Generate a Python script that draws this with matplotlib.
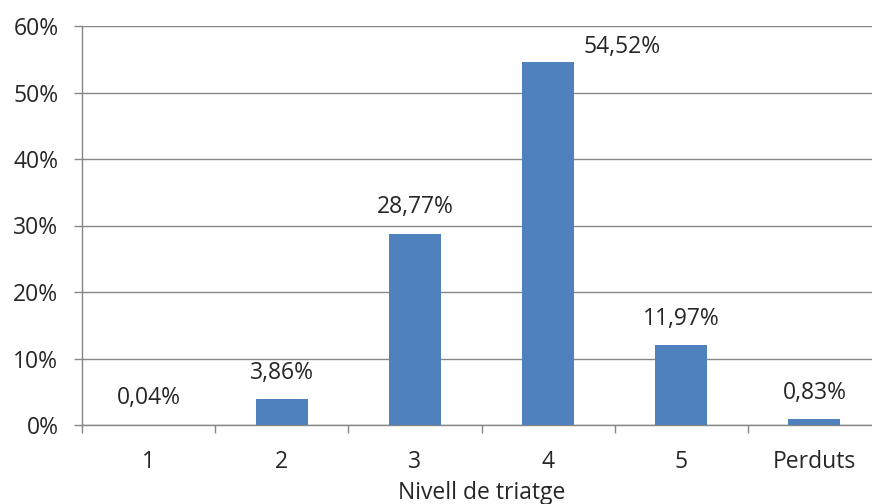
import matplotlib
matplotlib.use("Agg")
import matplotlib.pyplot as plt
from matplotlib.ticker import FuncFormatter, FixedLocator

categories = ["1", "2", "3", "4", "5", "Perduts"]
values = [0.04, 3.86, 28.77, 54.52, 11.97, 0.83]
value_labels = ["0,04%", "3,86%", "28,77%", "54,52%", "11,97%", "0,83%"]
y_ticks = [0, 10, 20, 30, 40, 50, 60]
x_title = "Nivell de triatge"

plt.rcParams["font.family"] = ["Open Sans", "DejaVu Sans"]

fig = plt.figure(figsize=(8.72, 5.04), dpi=100)
ax = fig.add_axes([82 / 872, 1 - 425 / 504, 799 / 872, 399 / 504])

grid_col = "#868686"
bar_col = "#4F81BD"
text_col = "#262626"
fs = 16.5

x = list(range(len(categories)))
ax.bar(x, values, width=0.39, color=bar_col, zorder=3)

ax.set_xlim(-0.5, len(categories) - 0.5)
ax.set_ylim(0, 60)
ax.set_yticks(y_ticks)
ax.yaxis.set_major_formatter(FuncFormatter(lambda v, p: f"{v:.0f}%"))
ax.grid(axis="y", color=grid_col, linewidth=1.0, zorder=0)

ax.set_xticks(x)
ax.set_xticklabels(categories)
ax.xaxis.set_minor_locator(FixedLocator([i - 0.5 for i in range(len(categories) + 1)]))
ax.tick_params(axis="x", which="major", length=0, pad=18, labelsize=fs, labelcolor=text_col)
ax.tick_params(axis="x", which="minor", length=6, width=1, color=grid_col, direction="out")
ax.tick_params(axis="y", length=6, width=1, color=grid_col, pad=11, labelsize=fs, labelcolor=text_col)

for side in ["top", "right"]:
    ax.spines[side].set_visible(False)
for side in ["left", "bottom"]:
    ax.spines[side].set_color(grid_col)
    ax.spines[side].set_linewidth(1.0)

for i, (v, lab) in enumerate(zip(values, value_labels)):
    offset = (53.6, 11) if i == 3 else (0, 19)
    ax.annotate(lab, (i, v), xytext=offset, textcoords="offset points",
                ha="center", va="center", fontsize=fs, color=text_col)

ax.set_xlabel(x_title, fontsize=fs, color=text_col, labelpad=5)

fig.savefig("out.png", dpi=100)
